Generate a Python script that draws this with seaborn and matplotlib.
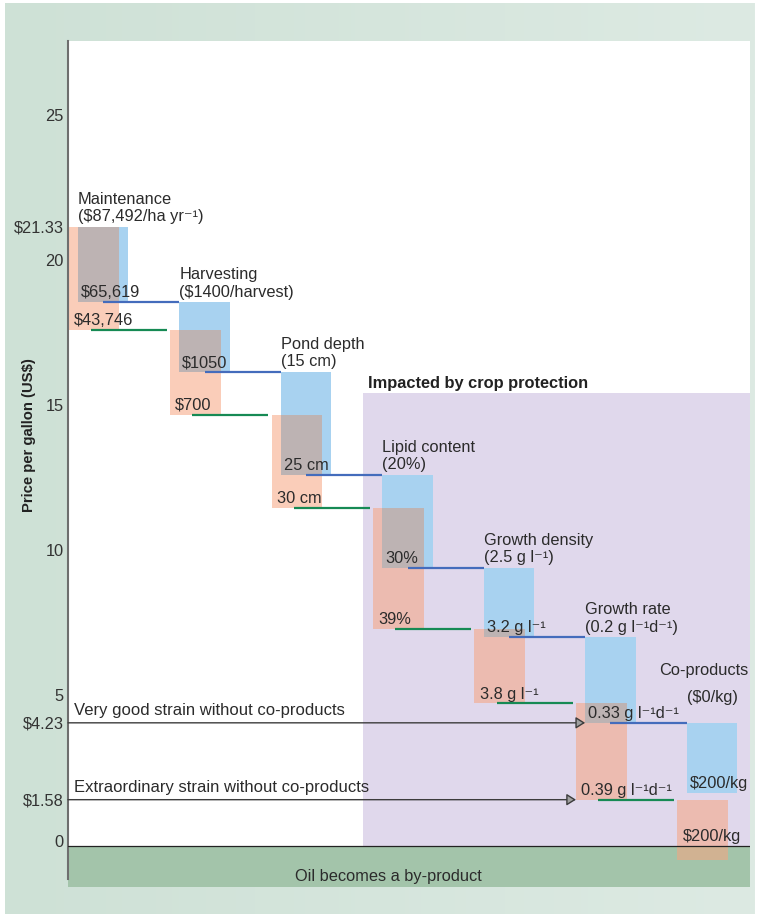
import numpy as np
import pandas as pd
import matplotlib
matplotlib.use("Agg")
import matplotlib.pyplot as plt
from matplotlib.patches import Rectangle
import seaborn as sns

# --- data ---
steps = ["Maintenance", "Harvesting", "Pond depth", "Lipid content",
         "Growth density", "Growth rate", "Co-products"]
step_titles = ["Maintenance\n($87,492/ha yr\u207b\u00b9)", "Harvesting\n($1400/harvest)",
               "Pond depth\n(15 cm)", "Lipid content\n(20%)",
               "Growth density\n(2.5 g l\u207b\u00b9)", "Growth rate\n(0.2 g l\u207b\u00b9d\u207b\u00b9)"]
coproducts_title = ["Co-products", "($0/kg)"]

start_price = 21.33
good_ends = [18.74, 16.33, 12.78, 9.57, 7.19, 4.23, 1.81]      # very good strain (blue)
extra_ends = [17.78, 14.86, 11.64, 7.47, 4.91, 1.58, -0.50]    # extraordinary strain (salmon)
good_labels = ["$65,619", "$1050", "25 cm", "30%", "3.2 g l\u207b\u00b9",
               "0.33 g l\u207b\u00b9d\u207b\u00b9", "$200/kg"]
extra_labels = ["$43,746", "$700", "30 cm", "39%", "3.8 g l\u207b\u00b9",
                "0.39 g l\u207b\u00b9d\u207b\u00b9", "$200/kg"]

good_strain_price = 4.23
extra_strain_price = 1.58
crop_top = 15.6

tick_vals = [0, 1.58, 4.23, 5, 10, 15, 20, 21.33, 25]
tick_text = ["0", "$1.58", "$4.23", "5", "10", "15", "20", "$21.33", "25"]

# --- style ---
sns.set_theme(style="white")
plt.rcParams['font.family'] = ['Liberation Sans', 'DejaVu Sans']
FS = 11.8
TXT = "#2b2b2b"
BLUE = "#A8D2F0"
SALMON = "#F7A480"
GRAY = "#BDB3B3"
BLUE_LINE = "#446CBC"
GREEN_LINE = "#168A54"
PURPLE = "#E0D8EC"
BAND = "#A3C4AA"

good_tops = [start_price] + good_ends[:-1]
extra_tops = [start_price] + extra_ends[:-1]
x = np.arange(len(steps))
shift = 0.045
width = 0.5
good_x = x + shift
extra_x = x - shift

fig = plt.figure(figsize=(7.61, 9.2), dpi=100)
fig.patch.set_facecolor("white")

# outer light green frame with a soft gradient
bg = fig.add_axes([0.0066, 0.0054, 0.9855, 0.9902], zorder=-5)
grad = np.linspace(0, 1, 256)[None, :]
bg.imshow(grad, aspect="auto", extent=[0, 1, 0, 1],
          cmap=matplotlib.colors.LinearSegmentedColormap.from_list("g", ["#CEE1D6", "#DDEAE3"]))
bg.set_axis_off()

ax = fig.add_axes([0.0894, 0.0348, 0.8962, 0.9196])
ax.set_facecolor("white")
xmin, xmax = -0.3, 6.42
ymin, ymax = -1.43, 27.74

# background regions
ax.axhspan(ymin, 0, color=BAND, lw=0, zorder=0.5)
crop_start = steps.index("Lipid content") - 0.39
ax.add_patch(Rectangle((crop_start, 0), xmax - crop_start, crop_top,
                       facecolor=PURPLE, lw=0, zorder=0.6))

# waterfall bars
df_extra = pd.DataFrame({"x": extra_x, "h": np.array(extra_tops) - np.array(extra_ends)})
sns.barplot(data=df_extra, x="x", y="h", bottom=np.array(extra_ends), native_scale=True,
            orient="x", width=width, color=SALMON, saturation=1, errorbar=None,
            alpha=0.55, linewidth=0, zorder=2, ax=ax)
df_good = pd.DataFrame({"x": good_x, "h": np.array(good_tops) - np.array(good_ends)})
sns.barplot(data=df_good, x="x", y="h", bottom=np.array(good_ends), native_scale=True,
            orient="x", width=width, color=BLUE, saturation=1, errorbar=None,
            linewidth=0, zorder=2.1, ax=ax)

# overlap of the two strains
ov_lo = np.maximum(good_ends, extra_ends)
ov_hi = np.minimum(good_tops, extra_tops)
ov_h = np.clip(ov_hi - ov_lo, 0, None)
ax.bar(good_x - width / 2, ov_h, bottom=ov_lo, width=width - 2 * shift,
       align="edge", color=GRAY, lw=0, zorder=2.2)

# connectors
for i in range(len(steps) - 1):
    ax.hlines(good_ends[i], good_x[i], good_x[i + 1] - width / 2, color=BLUE_LINE, lw=1.6, zorder=3)
    ax.hlines(extra_ends[i], extra_x[i] - 0.03, extra_x[i + 1] - width / 2 - 0.03,
              color=GREEN_LINE, lw=1.6, zorder=3)

ax.axhline(0, color="#222222", lw=0.9, zorder=3.5)

# step titles
for i, t in enumerate(step_titles):
    ax.annotate(t, xy=(good_x[i] - width / 2, good_tops[i]), xytext=(0, 2.5),
                textcoords="offset points", ha="left", va="bottom",
                fontsize=FS, color=TXT, linespacing=1.22, zorder=5)
last = len(steps) - 1
ax.annotate(coproducts_title[0], xy=(good_x[last] - 0.08, good_tops[last]), xytext=(0, 35),
            textcoords="offset points", ha="center", va="baseline", fontsize=FS, color=TXT)
ax.annotate(coproducts_title[1], xy=(good_x[last], good_tops[last]), xytext=(0, 16),
            textcoords="offset points", ha="center", va="baseline", fontsize=FS, color=TXT)

# values inside the bars
for i in range(len(steps)):
    ax.annotate(good_labels[i], xy=(good_x[i] - width / 2 + 0.03, good_ends[i]), xytext=(0, 4),
                textcoords="offset points", ha="left", va="baseline", fontsize=FS, color=TXT, zorder=5)
    ax.annotate(extra_labels[i], xy=(extra_x[i] - width / 2 + 0.05, max(extra_ends[i], 0)),
                xytext=(0, 4), textcoords="offset points", ha="left", va="baseline",
                fontsize=FS, color=TXT, zorder=5)

# strain reference arrows
gr = steps.index("Growth rate")
arrow_kw = dict(arrowstyle="-|>,head_length=0.35,head_width=0.22", mutation_scale=16,
                fc="#A0A0A0", ec="#3C3C3C", lw=1.0, shrinkA=0, shrinkB=0)
ax.annotate("", xy=(good_x[gr] - width / 2, good_strain_price), xytext=(0, good_strain_price),
            xycoords="data", textcoords=("axes fraction", "data"), arrowprops=arrow_kw, zorder=4)
ax.annotate("", xy=(extra_x[gr] - width / 2, extra_strain_price), xytext=(0, extra_strain_price),
            xycoords="data", textcoords=("axes fraction", "data"), arrowprops=arrow_kw, zorder=4)
ax.annotate("Very good strain without co-products", xy=(0.009, good_strain_price),
            xycoords=("axes fraction", "data"), xytext=(0, 6.5), textcoords="offset points",
            va="baseline", fontsize=12, color=TXT)
ax.annotate("Extraordinary strain without co-products", xy=(0.009, extra_strain_price),
            xycoords=("axes fraction", "data"), xytext=(0, 6.5), textcoords="offset points",
            va="baseline", fontsize=12, color=TXT)

ax.annotate("Impacted by crop protection", xy=(crop_start + 0.05, crop_top), xytext=(0, 4.5),
            textcoords="offset points", va="baseline", fontsize=FS, fontweight="bold", color="#222222")
ax.annotate("Oil becomes a by-product", xy=(0.47, 0), xycoords=("axes fraction", "data"),
            xytext=(0, -25), textcoords="offset points", ha="center", va="baseline",
            fontsize=FS, color=TXT)

# axes
ax.set_xlim(xmin, xmax)
ax.set_ylim(ymin, ymax)
ax.set_xticks([])
ax.set_xlabel("")
ax.set_yticks(tick_vals)
ax.set_yticklabels(tick_text)
ax.tick_params(axis="y", length=0, pad=3, labelsize=FS, labelcolor="#333333")
for lab in ax.get_yticklabels():
    lab.set_verticalalignment("center" if lab.get_text().startswith("$") else "baseline")
ax.set_ylabel("Price per gallon (US$)", fontsize=10.7, fontweight="bold", color="#222222")
ax.yaxis.set_label_coords(-0.047, 0.535)
for s in ["top", "right", "bottom"]:
    ax.spines[s].set_visible(False)
ax.spines["left"].set_color("#6E6E6E")
ax.spines["left"].set_linewidth(1.5)
ax.spines["left"].set_bounds(-1.16, ymax)

fig.savefig("out.png", dpi=100)
